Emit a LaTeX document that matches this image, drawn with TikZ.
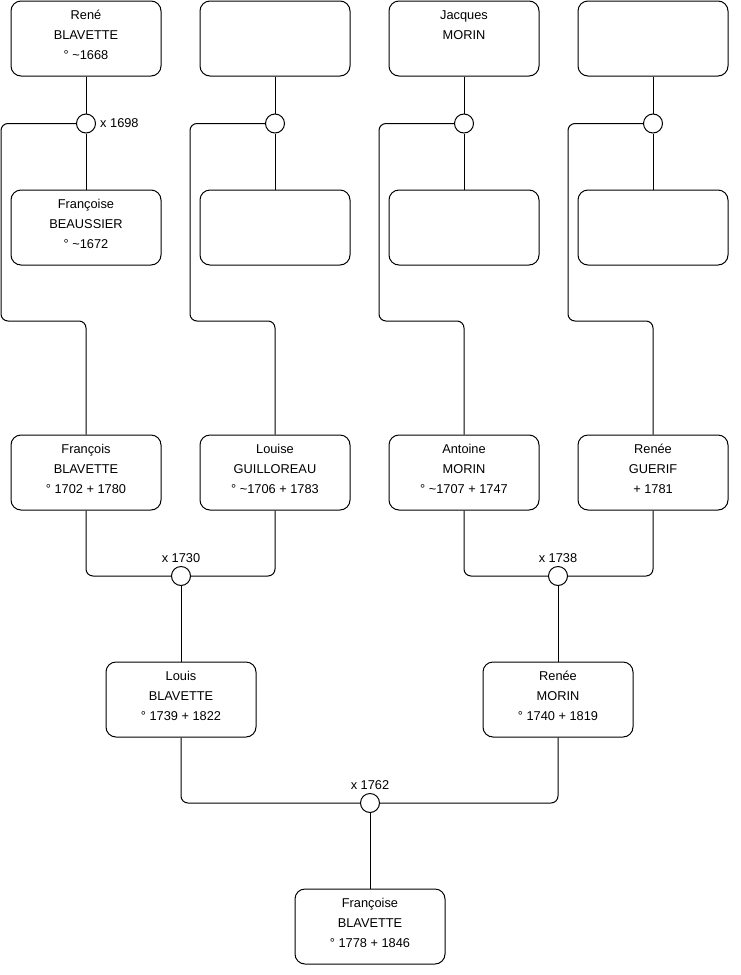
\documentclass[tikz,border=0pt]{standalone}
\usepackage{fontspec}
\setmainfont{Liberation Sans}
\usetikzlibrary{calc}
\tikzset{
 pbox/.style={draw=black, line width=1pt, rounded corners=10pt, minimum width=150pt, minimum height=75pt, inner sep=0pt},
 ptext/.style={anchor=north, inner sep=0pt, align=center, font=\fontsize{12.8}{20}\selectfont},
 wed/.style={circle, draw=black, line width=1pt, minimum size=19pt, inner sep=0pt},
 link/.style={draw=black, line width=1pt, rounded corners=7pt},
 wlabel/.style={inner sep=0pt, font=\fontsize{12.8}{14}\selectfont}
}
\newcommand\person[4]{%
 \node[pbox] (#1) at (#2,#3+37.5) {};
 \node[ptext] (#1-t) at (#2,#3+4.5) {\strut #4};
}
\begin{document}
\begin{tikzpicture}[x=1pt,y=-1pt]
\useasboundingbox (0,0) rectangle (740,975);
% row 1
\person{rene}{86}{1}{René\\BLAVETTE\\° \textasciitilde1668}
\person{gp2}{275}{1}{}
\person{jacques}{464}{1}{Jacques\\MORIN}
\person{gp4}{653}{1}{}
% row 2
\person{fbeau}{86}{190}{Françoise\\BEAUSSIER\\° \textasciitilde1672}
\person{gm2}{275}{190}{}
\person{gm3}{464}{190}{}
\person{gm4}{653}{190}{}
% row 3
\person{francois}{86}{435}{François\\BLAVETTE\\° 1702 + 1780}
\person{louise}{275}{435}{Louise\\GUILLOREAU\\° \textasciitilde1706 + 1783}
\person{antoine}{464}{435}{Antoine\\MORIN\\° \textasciitilde1707 + 1747}
\person{guerif}{653}{435}{Renée\\GUERIF\\+ 1781}
% row 4
\person{louis}{181}{662}{Louis\\BLAVETTE\\° 1739 + 1822}
\person{reneem}{558}{662}{Renée\\MORIN\\° 1740 + 1819}
% row 5
\person{francoise}{370}{889}{Françoise\\BLAVETTE\\° 1778 + 1846}
% wedding circles
\node[wed] (w1) at (86,123.5) {};
\node[wed] (w2) at (275,123.5) {};
\node[wed] (w3) at (464,123.5) {};
\node[wed] (w4) at (653,123.5) {};
\node[wed] (m1) at (181,576) {};
\node[wed] (m2) at (558,576) {};
\node[wed] (m3) at (370,803) {};
% labels
\node[wlabel, anchor=west] (l1698) at (100,123.5) {x 1698};
\node[wlabel, anchor=base] (l1730) at (181,562.5) {x 1730};
\node[wlabel, anchor=base] (l1738) at (558,562.5) {x 1738};
\node[wlabel, anchor=base] (l1762) at (370,789.5) {x 1762};
% top families
\foreach \p/\w/\m/\c/\x in {rene/w1/fbeau/francois/1, gp2/w2/gm2/louise/190, jacques/w3/gm3/antoine/379, gp4/w4/gm4/guerif/568}{
 \draw[link] (\p.south) -- (\w.north);
 \draw[link] (\w.south) -- (\m.north);
 \draw[link] (\w.west) -- (\x,123.5) -- (\x,321) -- (\c.north |- 0,321) -- (\c.north);
}
% marriages
\draw[link] (francois.south) -- (francois.south |- m1.west) -- (m1.west);
\draw[link] (louise.south) -- (louise.south |- m1.east) -- (m1.east);
\draw[link] (m1.south) -- (louis.north);
\draw[link] (antoine.south) -- (antoine.south |- m2.west) -- (m2.west);
\draw[link] (guerif.south) -- (guerif.south |- m2.east) -- (m2.east);
\draw[link] (m2.south) -- (reneem.north);
\draw[link] (louis.south) -- (louis.south |- m3.west) -- (m3.west);
\draw[link] (reneem.south) -- (reneem.south |- m3.east) -- (m3.east);
\draw[link] (m3.south) -- (francoise.north);
\end{tikzpicture}
\end{document}
